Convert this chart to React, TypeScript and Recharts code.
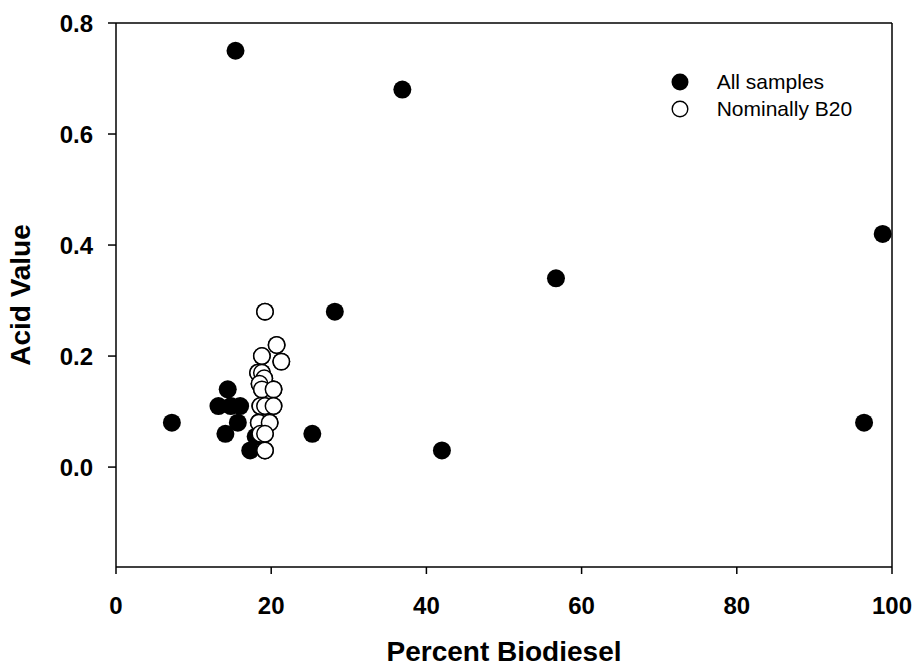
import { ScatterChart, Scatter, XAxis, YAxis, ReferenceLine, Legend, Label } from "recharts";

// samples that are not nominally B20 (percent biodiesel, acid value)
const otherPercent = [7.2, 15.4, 36.9, 98.8, 56.7, 28.2, 25.3, 42.0, 96.4, 14.4, 13.2, 14.8, 16.0, 15.7, 14.1, 17.3, 18.0];
const otherAcid = [0.08, 0.75, 0.68, 0.42, 0.34, 0.28, 0.06, 0.03, 0.08, 0.14, 0.11, 0.11, 0.11, 0.08, 0.06, 0.03, 0.055];

// nominally B20 samples
const b20Percent = [19.2, 20.7, 21.3, 18.8, 18.3, 18.8, 19.1, 18.5, 18.8, 20.3, 18.6, 19.2, 20.3, 18.4, 19.8, 18.6, 19.2, 19.2];
const b20Acid = [0.28, 0.22, 0.19, 0.2, 0.17, 0.17, 0.16, 0.15, 0.14, 0.14, 0.11, 0.11, 0.11, 0.08, 0.08, 0.06, 0.06, 0.03];

const xTicks = [0, 20, 40, 60, 80, 100];
const yTicks = [0, 0.2, 0.4, 0.6, 0.8];

const b20Data = b20Percent.map((p, i) => ({ pct: p, acid: b20Acid[i] }));
const allData = [...otherPercent.map((p, i) => ({ pct: p, acid: otherAcid[i] })), ...b20Data];

const FONT = "'Liberation Sans', Arial, sans-serif";
const tickStyle = { fill: "#000", fontSize: 24, fontWeight: 700, fontFamily: FONT };

const FilledDot = (props: any) => <circle cx={props.cx} cy={props.cy} r={9} fill="#000" />;
const OpenDot = (props: any) => <circle cx={props.cx} cy={props.cy} r={8.2} fill="#fff" stroke="#000" strokeWidth={1.5} />;

const renderLegend = (props: any) => (
    <div style={{ fontFamily: FONT, fontSize: 21, color: "#000" }}>
        {(props.payload || []).map((entry: any, i: number) => (
            <div key={i} style={{ display: "flex", alignItems: "center", height: 27.6 }}>
                <svg width={18} height={18}>
                    {i === 0
                        ? <circle cx={9} cy={9} r={8.5} fill="#000" />
                        : <circle cx={9} cy={9} r={7.8} fill="#fff" stroke="#000" strokeWidth={1.4} />}
                </svg>
                <span style={{ marginLeft: 27.7 }}>{entry.value}</span>
            </div>
        ))}
    </div>
);

const YTitle = (props: any) => {
    const vb = props.viewBox;
    const cy = vb.y + vb.height / 2;
    return (
        <text x={30} y={cy} transform={`rotate(-90, 30, ${cy})`} textAnchor="middle"
            style={{ fontFamily: FONT, fontSize: 28, fontWeight: 700, fill: "#000" }}>
            Acid Value
        </text>
    );
};

export default function App() {
    return (
        <div style={{ position: "absolute", left: 0, top: 0, background: "#fff" }}>
            <ScatterChart width={915} height={667} margin={{ top: 23, right: 23, left: 36, bottom: 30 }}>
                <XAxis type="number" dataKey="pct" domain={[0, 100]} ticks={xTicks}
                    tick={tickStyle} tickSize={7} tickMargin={23} height={70}
                    axisLine={{ stroke: "#000", strokeWidth: 1.5 }} tickLine={{ stroke: "#000", strokeWidth: 1.5 }}>
                    <Label value="Percent Biodiesel" position="bottom" offset={4}
                        style={{ fontFamily: FONT, fontSize: 28, fontWeight: 700, fill: "#000" }} />
                </XAxis>
                <YAxis type="number" dataKey="acid" domain={[-0.18, 0.8]} ticks={yTicks} allowDataOverflow
                    tickFormatter={(v: number) => v.toFixed(1)}
                    tick={tickStyle} tickSize={8} tickMargin={15} width={80}
                    axisLine={{ stroke: "#000", strokeWidth: 1.5 }} tickLine={{ stroke: "#000", strokeWidth: 1.5 }}>
                    <Label content={YTitle} />
                </YAxis>
                <ReferenceLine y={0.8} stroke="#000" strokeWidth={1.5} />
                <ReferenceLine x={100} stroke="#000" strokeWidth={1.5} />
                <Legend content={renderLegend} layout="vertical" align="center" verticalAlign="middle"
                    wrapperStyle={{ top: 68, left: 671, width: 220 }} />
                <Scatter name="All samples" data={allData} fill="#000" shape={FilledDot} isAnimationActive={false} />
                <Scatter name="Nominally B20" data={b20Data} fill="#fff" shape={OpenDot} isAnimationActive={false} />
            </ScatterChart>
        </div>
    );
}
